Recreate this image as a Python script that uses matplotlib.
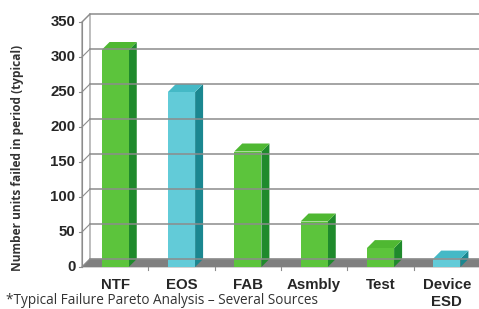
import matplotlib.pyplot as plt
from matplotlib.patches import Polygon, Rectangle

categories = ['NTF', 'EOS', 'FAB', 'Asmbly', 'Test', 'Device\nESD']
values = [310, 250, 165, 65, 27, 12]
kinds = ['g', 'c', 'g', 'g', 'g', 'c']
yticks = [0, 50, 100, 150, 200, 250, 300, 350]

# front / side / top colours for each bar kind
colors = {
    'g': ('#5cc43c', '#1f8a2c', '#4fb832'),
    'c': ('#62cbd8', '#1b8790', '#45b9c6'),
}

W, H = 479, 309
fig = plt.figure(figsize=(W / 100, H / 100), dpi=100)
ax = fig.add_axes([82 / W, 42 / H, (480 - 82) / W, (267 - 22) / H])
ax.set_xlim(0, 6)
ax.set_ylim(0, 350)
ax.axis('off')

# depth offset (8 px right, 8 px up)
dx = 8 / 66.4
dy = 8 / 0.7
ymax = 350
grid_c = '#8c8c8c'

# walls
ax.add_patch(Polygon([(dx, dy), (6 + dx, dy), (6 + dx, ymax + dy), (dx, ymax + dy)],
                     closed=True, fc='white', ec='none', clip_on=False))
ax.add_patch(Polygon([(0, 0), (dx, dy), (dx, ymax + dy), (0, ymax)],
                     closed=True, fc='white', ec=grid_c, lw=0.8, clip_on=False))
# gridlines on back wall and left wall
for t in yticks:
    ax.plot([dx, 6 + dx], [t + dy, t + dy], color=grid_c, lw=1.1, clip_on=False)
    ax.plot([0, dx], [t, t + dy], color=grid_c, lw=0.8, clip_on=False)
# floor
ax.add_patch(Polygon([(0, 0), (6, 0), (6 + dx, dy), (dx, dy)],
                     closed=True, fc='#7f7f7f', ec='#7f7f7f', lw=0.5, clip_on=False))
# front axis line + ticks
ax.plot([0, 0], [0, ymax], color=grid_c, lw=0.8, clip_on=False)
for t in yticks:
    ax.plot([-0.05, 0], [t, t], color=grid_c, lw=0.8, clip_on=False)
    ax.text(-0.1, t, str(t), ha='right', va='center', fontsize=10.8,
            fontweight='bold', family='Liberation Sans', color='#262626')
for i in range(1, 7):
    ax.plot([i, i], [0, -4], color=grid_c, lw=0.8, clip_on=False)

# bars
bw = 0.41
for i, (v, k) in enumerate(zip(values, kinds)):
    front, side, top = colors[k]
    x0 = i + 0.5 - bw / 2
    x1 = i + 0.5 + bw / 2
    ax.add_patch(Polygon([(x1, 0), (x1 + dx, dy), (x1 + dx, v + dy), (x1, v)],
                         closed=True, fc=side, ec='none', clip_on=False))
    ax.add_patch(Polygon([(x0, v), (x1, v), (x1 + dx, v + dy), (x0 + dx, v + dy)],
                         closed=True, fc=top, ec='none', clip_on=False))
    ax.add_patch(Rectangle((x0, 0), bw, v, fc=front, ec='none', clip_on=False))
    ax.text(i + 0.5, -16, categories[i], ha='center', va='top', fontsize=10.8,
            fontweight='bold', family='Liberation Sans', color='#262626',
            linespacing=1.25)

fig.text(18 / W, 1 - 158 / H, 'Number units failed in period (typical)',
         rotation=90, ha='center', va='center', fontsize=8.6, fontweight='bold',
         family='Open Sans', color='#333333')
fig.text(6 / W, 1 - 300 / H, '*Typical Failure Pareto Analysis \u2013 Several Sources',
         ha='left', va='center', fontsize=9.8, family='Open Sans', color='#333333')

fig.savefig('out.png', dpi=100)
